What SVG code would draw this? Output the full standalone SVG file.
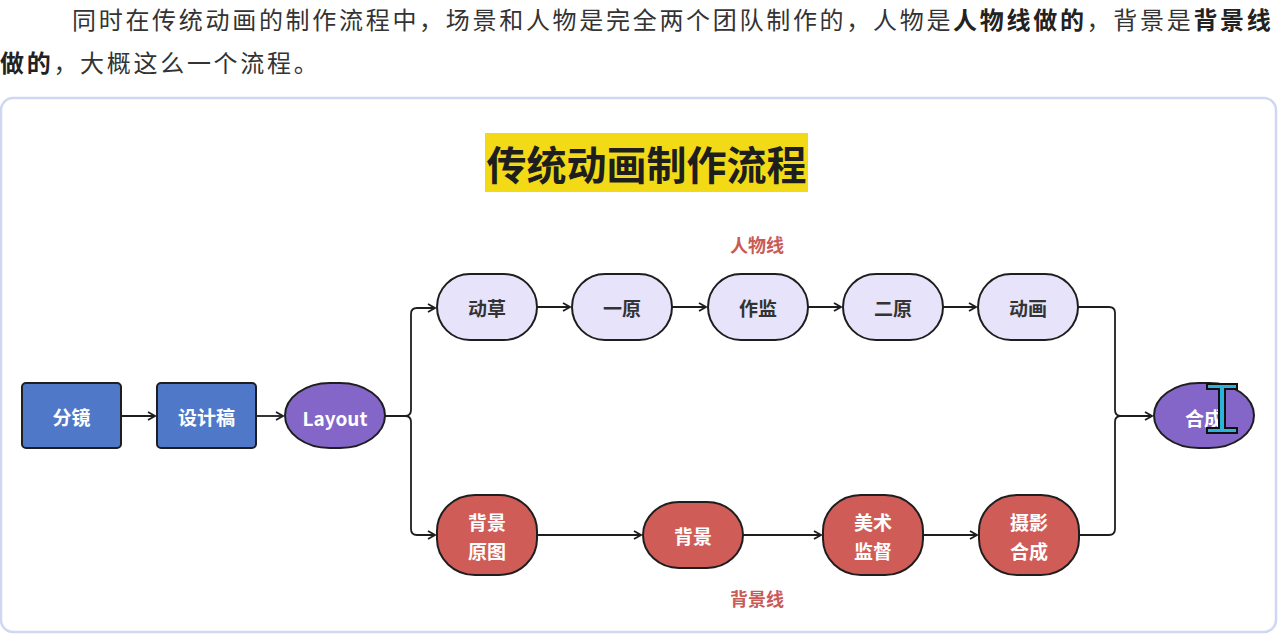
<svg xmlns="http://www.w3.org/2000/svg" width="1280" height="644" viewBox="0 0 1280 644">
<defs>
<style>
.para{font-family:"Noto Sans CJK SC","Noto Sans",sans-serif;font-size:24px;fill:#333;letter-spacing:2.7px}
.b{font-weight:700;fill:#222}
.lbl{font-family:"Noto Sans CJK SC","Noto Sans",sans-serif;font-size:19px;font-weight:700;text-anchor:middle;dominant-baseline:central}
.w{fill:#fff}
.d{fill:#333}
.blue{fill:#4f78c9;stroke:#1e1e1e;stroke-width:2}
.purple{fill:#8366c8;stroke:#1e1e1e;stroke-width:2}
.lav{fill:#e7e3fb;stroke:#1e1e1e;stroke-width:2}
.red{fill:#d05c58;stroke:#1e1e1e;stroke-width:2}
.conn{fill:none;stroke:#1e1e1e;stroke-width:1.8}
.line{font-family:"Noto Sans CJK SC","Noto Sans",sans-serif;font-size:18px;font-weight:700;fill:#c95a55;text-anchor:middle}
</style>
<marker id="arr" viewBox="0 0 12 12" refX="11" refY="6" markerWidth="12" markerHeight="12" markerUnits="userSpaceOnUse" orient="auto">
<path d="M4,2 L11,6 L4,10" fill="none" stroke="#1e1e1e" stroke-width="1.8"/>
</marker>
</defs>
<rect width="1280" height="644" fill="#fff"/>
<text class="para" x="72" y="29">同时在传统动画的制作流程中，场景和人物是完全两个团队制作的，人物是<tspan class="b">人物线做的</tspan>，背景是<tspan class="b">背景线</tspan></text>
<text class="para" x="0" y="72"><tspan class="b">做的</tspan>，大概这么一个流程。</text>
<rect x="1" y="98" width="1275" height="534" rx="12" fill="#fff" stroke="#cfd7f2" stroke-width="2.5"/>
<g id="title">
<rect x="485" y="133" width="323" height="59" fill="#f3da17"/>
<text x="646.5" y="163" font-family="Noto Sans CJK SC, sans-serif" font-size="40" font-weight="700" fill="#1e1e1e" text-anchor="middle" dominant-baseline="central">传统动画制作流程</text>
</g>
<text id="label-renwu" class="line" x="757" y="252">人物线</text>
<text id="label-beijing" class="line" x="757" y="606">背景线</text>
<g id="connectors">
<path class="conn" d="M121,416 H155" marker-end="url(#arr)"/>
<path class="conn" d="M256,416 H283" marker-end="url(#arr)"/>
<path class="conn" d="M385,416 H405 Q411,416 411,410 V314 Q411,308 417,308 H435" marker-end="url(#arr)"/>
<path class="conn" d="M405,416 Q411,416 411,422 V529 Q411,535 417,535 H435" marker-end="url(#arr)"/>
<path class="conn" d="M537,307 H570" marker-end="url(#arr)"/>
<path class="conn" d="M672,307 H706" marker-end="url(#arr)"/>
<path class="conn" d="M808,307 H841" marker-end="url(#arr)"/>
<path class="conn" d="M943,307 H976" marker-end="url(#arr)"/>
<path class="conn" d="M537,535 H641" marker-end="url(#arr)"/>
<path class="conn" d="M743,535 H821" marker-end="url(#arr)"/>
<path class="conn" d="M923,535 H977" marker-end="url(#arr)"/>
<path class="conn" d="M1078,307 H1109 Q1115,307 1115,313 V410 Q1115,416 1121,416 H1152" marker-end="url(#arr)"/>
<path class="conn" d="M1079,535 H1109 Q1115,535 1115,529 V422 Q1115,416 1121,416"/>
</g>
<g id="fenjing"><rect class="blue" x="22" y="383" width="99" height="65" rx="4"/><text class="lbl w" x="71.5" y="416">分镜</text></g>
<g id="shejigao"><rect class="blue" x="157" y="383" width="99" height="65" rx="4"/><text class="lbl w" x="206.5" y="416">设计稿</text></g>
<g id="layout"><rect class="purple" x="285" y="383" width="100" height="65" rx="45" ry="32.5"/><text class="lbl w" x="335" y="417" font-family="Noto Sans, sans-serif" font-size="20">Layout</text></g>
<g id="dongcao"><rect class="lav" x="437" y="274" width="100" height="66" rx="33"/><text class="lbl d" x="487" y="307">动草</text></g>
<g id="yiyuan"><rect class="lav" x="572" y="274" width="100" height="66" rx="33"/><text class="lbl d" x="622" y="307">一原</text></g>
<g id="zuojian"><rect class="lav" x="708" y="274" width="100" height="66" rx="33"/><text class="lbl d" x="758" y="307">作监</text></g>
<g id="eryuan"><rect class="lav" x="843" y="274" width="100" height="66" rx="33"/><text class="lbl d" x="893" y="307">二原</text></g>
<g id="donghua"><rect class="lav" x="978" y="274" width="100" height="66" rx="33"/><text class="lbl d" x="1028" y="307">动画</text></g>
<g id="beijingyuantu"><rect class="red" x="437" y="495" width="100" height="80" rx="38" ry="36"/><text class="lbl w" x="487" y="521">背景</text><text class="lbl w" x="487" y="550">原图</text></g>
<g id="beijing"><rect class="red" x="643" y="502" width="100" height="66" rx="36" ry="33"/><text class="lbl w" x="693" y="535">背景</text></g>
<g id="meishujiandu"><rect class="red" x="823" y="495" width="100" height="80" rx="38" ry="36"/><text class="lbl w" x="873" y="521">美术</text><text class="lbl w" x="873" y="550">监督</text></g>
<g id="sheyinghecheng"><rect class="red" x="979" y="495" width="100" height="80" rx="38" ry="36"/><text class="lbl w" x="1029" y="521">摄影</text><text class="lbl w" x="1029" y="550">合成</text></g>
<g id="hecheng"><rect class="purple" x="1154" y="383" width="100" height="65" rx="45" ry="32.5"/><text class="lbl w" x="1204" y="417">合成</text></g>
<g id="cursor">
<path d="M1206,383 H1238 V390 H1226 V427 H1238 V434 H1206 V427 H1218 V390 H1206 Z" fill="#111"/>
<path d="M1208,385 H1236 V388 H1224 V429 H1236 V432 H1208 V429 H1220 V388 H1208 Z" fill="#2bb3dc"/>
</g>
</svg>
